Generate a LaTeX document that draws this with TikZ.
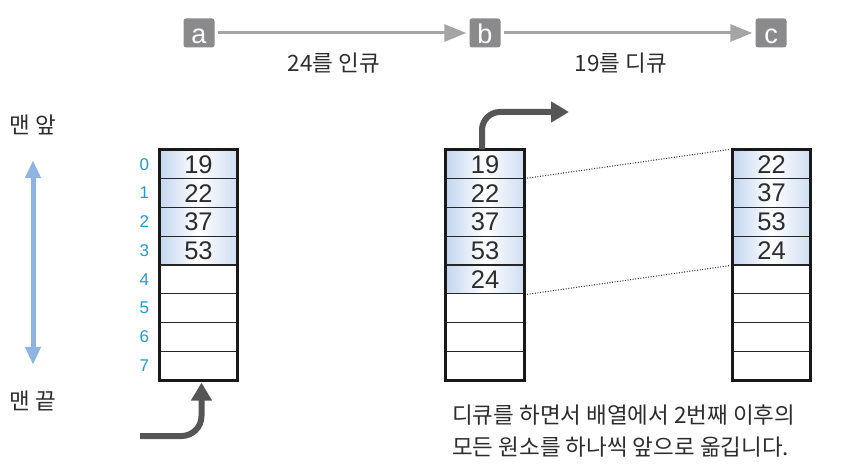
\documentclass[tikz,border=0pt]{standalone}
\usepackage{fontspec}
\setmainfont{Liberation Sans}
\newfontfamily\kr{Noto Sans CJK KR}
\usetikzlibrary{arrows.meta,positioning}
\definecolor{tagcolor}{RGB}{138,138,140}
\definecolor{linkcolor}{RGB}{165,165,168}
\definecolor{idxcolor}{RGB}{30,154,214}
\definecolor{spancolor}{RGB}{142,180,227}
\definecolor{cellcolor}{RGB}{196,214,240}
\definecolor{movecolor}{RGB}{85,85,85}
\definecolor{txtcolor}{RGB}{45,45,45}
\tikzset{
  tagbox/.style={fill=tagcolor, rounded corners=2.5pt, minimum width=31pt, minimum height=29pt,
    inner sep=0pt, text=white, text height=21pt, text depth=0pt, font=\fontsize{27}{27}\selectfont},
  linkln/.style={-{Triangle[length=22pt,width=17pt]}, line width=3pt, linkcolor},
  cellbox/.style={draw=black!85, line width=1.2pt, minimum width=77pt, minimum height=28.75pt,
    inner sep=0pt, text=txtcolor, font=\fontsize{25.5}{25.5}\selectfont},
  usedcell/.style={cellbox, left color=cellcolor, right color=cellcolor!80, middle color=white},
  outerln/.style={line width=3pt, black!90},
  idxlbl/.style={inner sep=0pt, text=idxcolor, font=\fontsize{17}{17}\selectfont},
  krlbl/.style={inner sep=0pt, text=txtcolor, font=\kr\fontsize{22.5}{22.5}\selectfont},
  moveln/.style={-{Triangle[length=18pt,width=20pt]}, line width=6pt, movecolor},
  spanln/.style={{Triangle[length=18pt,width=15pt]}-{Triangle[length=18pt,width=15pt]}, line width=5pt, spancolor},
  linkdot/.style={dash pattern=on 1pt off 1.6pt, line width=1.1pt, black!75},
}

\begin{document}
\begin{tikzpicture}[x=1pt, y=-1pt]
    \useasboundingbox (0,0) rectangle (848,476);
    % states
    \node[tagbox] (a) at (199,33) {a};
    \node[tagbox] (b) at (485,33) {b};
    \node[tagbox] (c) at (771,33) {c};
    \draw[linkln] ([xshift=3pt]a.east) -- ([xshift=-3pt]b.west)
      node[krlbl, midway, below=18pt, xshift=-8pt] {24를 인큐};
    \draw[linkln] ([xshift=3pt]b.east) -- ([xshift=-3pt]c.west)
      node[krlbl, midway, below=18pt, xshift=-7pt] {19를 디큐};
    % front and rear
    \node[krlbl] (front) at (33,125) {맨 앞};
    \node[krlbl] (rear) at (33,401) {맨 끝};
    \draw[spanln] ([yshift=-25pt]front.south) -- ([yshift=26pt]rear.north);
    % queue a
    \foreach \v [count=\i from 0] in {19,22,37,53}
      \node[usedcell] (q1-\i) at (198.5,{164.4+\i*28.75}) {\v};
    \foreach \i in {4,...,7}
      \node[cellbox] (q1-\i) at (198.5,{164.4+\i*28.75}) {};
    \draw[outerln] (q1-0.north west) rectangle (q1-7.south east);
    \foreach \i in {0,...,7}
      \node[idxlbl, left=10pt of q1-\i] {\i};
    % queue b
    \foreach \v [count=\i from 0] in {19,22,37,53,24}
      \node[usedcell] (q2-\i) at (485,{164.4+\i*28.75}) {\v};
    \foreach \i in {5,...,7}
      \node[cellbox] (q2-\i) at (485,{164.4+\i*28.75}) {};
    \draw[outerln] (q2-0.north west) rectangle (q2-7.south east);
    % queue c
    \foreach \v [count=\i from 0] in {22,37,53,24}
      \node[usedcell] (q3-\i) at (771.5,{164.4+\i*28.75}) {\v};
    \foreach \i in {4,...,7}
      \node[cellbox] (q3-\i) at (771.5,{164.4+\i*28.75}) {};
    \draw[outerln] (q3-0.north west) rectangle (q3-7.south east);
    % shifted block
    \draw[linkdot] ([xshift=3pt]q2-1.north east) -- ([xshift=-3pt]q3-0.north west);
    \draw[linkdot] ([xshift=3pt]q2-4.south east) -- ([xshift=-3pt]q3-3.south west);
    % enqueue and dequeue moves
    \coordinate (inpt) at (140,436);
    \coordinate (outpt) at (569,112);
    \draw[moveln, rounded corners=20pt] (inpt) -| ([xshift=3pt, yshift=-2pt]q1-7.south);
    \draw[moveln, rounded corners=18pt] ([xshift=-3pt]q2-0.north) |- (outpt);
    % note
    \node[krlbl, anchor=west, align=left, font=\kr\fontsize{22.5}{32}\selectfont] (note) at (452,431)
      {디큐를 하면서 배열에서 2번째 이후의\\모든 원소를 하나씩 앞으로 옮깁니다.};
  \end{tikzpicture}
\end{document}
